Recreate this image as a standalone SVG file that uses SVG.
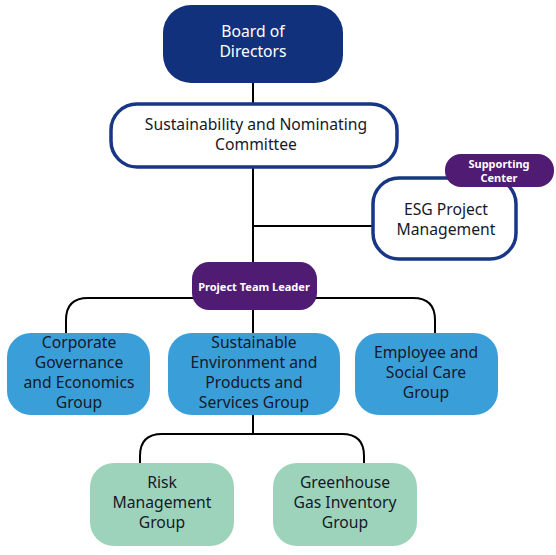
<svg xmlns="http://www.w3.org/2000/svg" width="556" height="555" viewBox="0 0 556 555">
<style>
.conn{fill:none;stroke:#000;stroke-width:2}
.t{font-family:"Noto Sans","Open Sans",sans-serif;font-size:15.7px;text-anchor:middle;fill:#16182a}
.w{fill:#fff}
.b{font-family:"Noto Sans","Open Sans",sans-serif;font-size:11px;font-weight:bold;text-anchor:middle;fill:#fff}
.navy{fill:#12317c}
.outl{fill:#fff;stroke:#173684;stroke-width:3.5}
.purple{fill:#501b72}
.blue{fill:#3a9fd9}
.green{fill:#9dd3ba}
</style>
<rect width="556" height="555" fill="#fff"/>
<g id="connectors">
<path class="conn" d="M253,83V103M253,168V262M253,310V333M253,415V434"/>
<path class="conn" d="M253,226H372"/>
<path class="conn" d="M66,333V320Q66,298 88,298H413Q435,298 435,320V333"/>
<path class="conn" d="M140,463V456Q140,434 162,434H342Q364,434 364,456V463"/>
</g>
<g id="board">
<rect class="navy" x="163" y="5" width="180" height="78" rx="28"/>
<text class="t w" x="253" y="37" font-size="16">Board of</text>
<text class="t w" x="253" y="57" font-size="16">Directors</text>
</g>
<g id="committee">
<rect class="outl" x="111" y="104" width="286" height="63" rx="26"/>
<text class="t" x="256" y="130">Sustainability and Nominating</text>
<text class="t" x="256" y="150">Committee</text>
</g>
<g id="esg">
<rect class="outl" x="373" y="178" width="143" height="81" rx="26"/>
<text class="t" x="446" y="215">ESG Project</text>
<text class="t" x="446" y="235">Management</text>
</g>
<g id="supporting">
<rect class="purple" x="445" y="154" width="109" height="33" rx="16"/>
<text class="b" x="499" y="168">Supporting</text>
<text class="b" x="499" y="182">Center</text>
</g>
<g id="leader">
<rect class="purple" x="192" y="262" width="125" height="48" rx="17"/>
<text class="b" x="254" y="291">Project Team Leader</text>
</g>
<g id="corporate">
<rect class="blue" x="7" y="333" width="143" height="82" rx="24"/>
<text class="t" x="79" y="348">Corporate</text>
<text class="t" x="79" y="368">Governance</text>
<text class="t" x="79" y="388">and Economics</text>
<text class="t" x="79" y="408">Group</text>
</g>
<g id="sustainable">
<rect class="blue" x="168" y="333" width="172" height="82" rx="24"/>
<text class="t" x="254" y="348">Sustainable</text>
<text class="t" x="254" y="368">Environment and</text>
<text class="t" x="254" y="388">Products and</text>
<text class="t" x="254" y="408">Services Group</text>
</g>
<g id="employee">
<rect class="blue" x="355" y="333" width="143" height="82" rx="24"/>
<text class="t" x="426" y="358">Employee and</text>
<text class="t" x="426" y="378">Social Care</text>
<text class="t" x="426" y="398">Group</text>
</g>
<g id="risk">
<rect class="green" x="90" y="463" width="144" height="83" rx="24"/>
<text class="t" x="162" y="488">Risk</text>
<text class="t" x="162" y="508">Management</text>
<text class="t" x="162" y="528">Group</text>
</g>
<g id="greenhouse">
<rect class="green" x="273" y="463" width="144" height="83" rx="24"/>
<text class="t" x="345" y="488">Greenhouse</text>
<text class="t" x="345" y="508">Gas Inventory</text>
<text class="t" x="345" y="528">Group</text>
</g>
</svg>
